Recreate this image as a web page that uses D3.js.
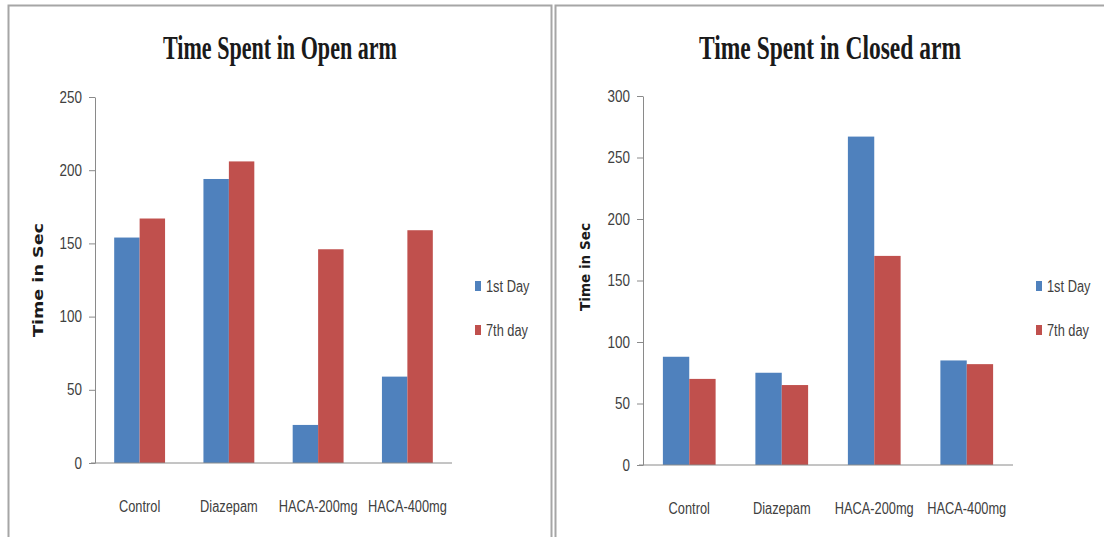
<!DOCTYPE html>
<html>
<head>
<meta charset="utf-8">
<script src="https://cdn.jsdelivr.net/npm/d3@7"></script>
<style>
  html, body { margin: 0; padding: 0; background: #fff; }
  svg { display: block; }
</style>
</head>
<body>
<svg id="chart" width="1104" height="537"></svg>
<script>
// ---- data ----
const categories = ["Control", "Diazepam", "HACA-200mg", "HACA-400mg"];
const seriesNames = ["1st Day", "7th day"];
const openFirstDay = [154, 194, 26, 59];
const openSeventhDay = [167, 206, 146, 159];
const closedFirstDay = [88, 75, 267, 85];
const closedSeventhDay = [70, 65, 170, 82];
const openTicks = [0, 50, 100, 150, 200, 250];
const closedTicks = [0, 50, 100, 150, 200, 250, 300];
const yAxisTitle = "Time in Sec";
const openTitle = "Time Spent in Open arm";
const closedTitle = "Time Spent in Closed arm";

const colors = ["#4F81BD", "#C0504D"];
const labelFont = "'Liberation Sans', Arial, sans-serif";
const axisColor = "#8a8a8a";
const textColor = "#404040";

const svg = d3.select("#chart");

// condense text horizontally (Calibri-like narrow look)
function condense(sel, factor) {
  sel.each(function () {
    const w = this.getComputedTextLength();
    d3.select(this).attr("textLength", w * factor).attr("lengthAdjust", "spacingAndGlyphs");
  });
}

// panel borders
svg.append("rect").attr("x", 8.5).attr("y", 5.5).attr("width", 543).attr("height", 560)
  .attr("fill", "none").attr("stroke", "#a6a6a6").attr("stroke-width", 2);
svg.append("rect").attr("x", 555.5).attr("y", 5.5).attr("width", 560).attr("height", 560)
  .attr("fill", "none").attr("stroke", "#a6a6a6").attr("stroke-width", 2);

function drawChart(cfg) {
  const g = svg.append("g");
  const y = d3.scaleLinear().domain([cfg.ticks[0], cfg.ticks[cfg.ticks.length - 1]]).range([cfg.y0, cfg.y1]);
  const x = d3.scaleBand().domain(categories).range([cfg.x0, cfg.x1]).padding(0);
  const bw = x.bandwidth();
  const xs = d3.scaleBand().domain(seriesNames).range([bw * 0.215, bw * 0.785]).padding(0);

  // title
  g.append("text")
    .attr("x", cfg.titleX).attr("y", 59)
    .attr("text-anchor", "middle")
    .attr("font-family", "'Liberation Serif', 'DejaVu Serif', serif")
    .attr("font-weight", "bold")
    .attr("font-size", 34)
    .attr("textLength", cfg.titleLen)
    .attr("lengthAdjust", "spacingAndGlyphs")
    .attr("fill", "#1a1a1a")
    .text(cfg.title);

  // y axis
  const yAxis = d3.axisLeft(y).tickValues(cfg.ticks).tickSize(6).tickPadding(7).tickSizeOuter(0);
  const ya = g.append("g").attr("transform", `translate(${cfg.x0},0)`).call(yAxis);
  ya.select(".domain").attr("stroke", axisColor);
  ya.selectAll(".tick line").attr("stroke", axisColor);
  ya.selectAll(".tick text").attr("font-family", labelFont).attr("font-size", 16).attr("fill", textColor)
    .call(condense, 0.84);

  // bars
  const series = [cfg.first, cfg.second];
  series.forEach((vals, si) => {
    g.append("g").selectAll("rect")
      .data(vals)
      .join("rect")
      .attr("x", (d, i) => x(categories[i]) + xs(seriesNames[si]))
      .attr("y", d => y(d))
      .attr("width", xs.bandwidth())
      .attr("height", d => y(0) - y(d))
      .attr("fill", colors[si]);
  });

  // x axis
  const xAxis = d3.axisBottom(x).tickSize(0).tickPadding(38).tickSizeOuter(0);
  const xa = g.append("g").attr("transform", `translate(0,${cfg.y0})`).call(xAxis);
  xa.select(".domain").attr("stroke", axisColor).attr("d", `M${cfg.x0 - 4},0H${cfg.x1}`);
  xa.selectAll(".tick text").attr("font-family", labelFont).attr("font-size", 16).attr("fill", textColor)
    .call(condense, 0.8);

  // y-axis title
  g.append("text")
    .attr("transform", `translate(${cfg.ytX},${cfg.ytY}) rotate(-90)`)
    .attr("text-anchor", "middle")
    .attr("dy", "0.35em")
    .attr("font-family", "'DejaVu Sans', Verdana, sans-serif")
    .attr("font-weight", "bold")
    .attr("font-size", 14)
    .attr("textLength", cfg.ytLen)
    .attr("lengthAdjust", "spacingAndGlyphs")
    .attr("fill", "#1a1a1a")
    .text(yAxisTitle);

  // legend
  const lg = g.append("g");
  seriesNames.forEach((name, si) => {
    const cy = 286 + si * 44;
    lg.append("rect").attr("x", cfg.legX).attr("y", cy - 5).attr("width", 6).attr("height", 10).attr("fill", colors[si]);
    lg.append("text").attr("x", cfg.legX + 11).attr("y", cy).attr("dy", "0.35em")
      .attr("font-family", labelFont).attr("font-size", 16).attr("fill", textColor).text(name)
      .call(condense, 0.8);
  });
}

drawChart({
  title: openTitle, titleX: 280, titleLen: 234,
  ticks: openTicks, first: openFirstDay, second: openSeventhDay,
  x0: 95, x1: 452, y0: 463, y1: 97,
  ytX: 38, ytY: 280, ytLen: 114,
  legX: 475
});
drawChart({
  title: closedTitle, titleX: 830, titleLen: 262,
  ticks: closedTicks, first: closedFirstDay, second: closedSeventhDay,
  x0: 643, x1: 1013, y0: 465, y1: 96,
  ytX: 585, ytY: 267, ytLen: 88,
  legX: 1036
});
</script>
</body>
</html>
